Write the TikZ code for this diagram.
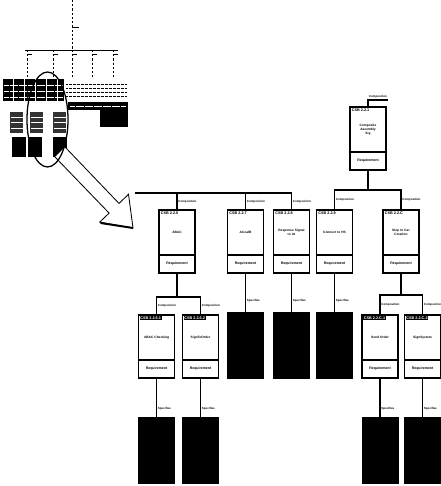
\documentclass[tikz,border=0pt]{standalone}
\usepackage{fontspec}
\setmainfont{Liberation Sans}
\usetikzlibrary{positioning}

\begin{document}
\begin{tikzpicture}[
  x=0.05cm,
  y=-0.05cm,
  link/.style={draw=black, line width=2pt},
  thumb/.style={draw=black, line width=0.8pt},
  thumbtext/.style={draw=black, line width=1.4pt, dash pattern=on 1.2pt off 0.7pt},
  csbbox/.style={
    rectangle,
    draw=black,
    fill=white,
    line width=2pt,
    outer sep=0pt,
    minimum width=1.8cm,
    minimum height=2.25cm,
    text width=1.6cm,
    inner sep=1pt,
    align=center,
    font=\fontsize{4.6}{5.4}\selectfont\bfseries
  },
  reqbox/.style={
    rectangle,
    draw=black,
    fill=white,
    line width=2pt,
    outer sep=0pt,
    minimum width=1.8cm,
    minimum height=0.9cm,
    inner sep=1pt,
    font=\fontsize{5}{5}\selectfont\bfseries
  },
  specbox/.style={
    rectangle,
    draw=black,
    fill=black,
    outer sep=0pt,
    minimum width=1.8cm,
    minimum height=3.3cm
  },
  idtag/.style={font=\fontsize{5.4}{5.4}\selectfont\bfseries, inner sep=0.8pt,
    anchor=north west, xshift=1.6pt, yshift=-1.6pt},
  idinv/.style={idtag, fill=black, text=white},
  rel/.style={font=\fontsize{4.2}{4.5}\selectfont\bfseries, inner sep=1pt}
]
\useasboundingbox (0,0) rectangle (441,486);

% ---------------------------------------------------------------------------
% thumbnail of the whole tree, with the magnified part
% ---------------------------------------------------------------------------
\draw[thumb, dashed] (72,0) -- (72,50);
\draw[thumb] (72,27) -- (79,27);
\draw[thumb] (25,50) -- (118,50);
\foreach \x in {27,53,72,92,113} {
  \draw[thumb, dashed] (\x,50) -- (\x,78);
  \draw[thumb] (\x,54) -- (\x+5,54);
}
\fill[black] (3,79) rectangle (64,101);
\foreach \x in {13,24,35,46,57}
  \draw[white, line width=0.7pt] (\x,79) -- (\x,101);
\foreach \y in {85,91,97}
  \draw[white, line width=0.6pt, dash pattern=on 1pt off 0.6pt] (4,\y) -- (63,\y);
\foreach \y in {84,88,92,96}
  \draw[thumbtext] (66,\y) -- (127,\y);
\fill[black] (68,102) rectangle (128,110);
\draw[white, line width=0.6pt, dash pattern=on 0.8pt off 0.8pt] (70,106) -- (126,106);
\foreach \x in {10,30,53} {
  \fill[black!80] (\x,112) rectangle (\x+13,133);
  \foreach \y in {117,122,128}
    \draw[white, line width=0.5pt, dash pattern=on 0.8pt off 0.5pt] (\x+1,\y) -- (\x+12,\y);
}
\fill[black] (100,110) rectangle (128,127);
\foreach \x in {12,28,53}
  \fill[black] (\x,137) rectangle (\x+14,157);

% hollow arrow from the ellipse to the enlarged part
\draw[line width=1.2pt, fill=white]
  (65,147) -- (119,203.4) -- (128.5,194.3) -- (133,228)
  -- (99.7,222.1) -- (109.1,213.1) -- (55,157);
\draw[line width=2.8pt] (100.5,223) -- (133,228);
\draw[line width=1.8pt] (47.5,119.5) ellipse [x radius=1.025cm, y radius=2.375cm];

% ---------------------------------------------------------------------------
% enlarged part
% ---------------------------------------------------------------------------
\node[csbbox, anchor=north,
  label={[idtag]north west:CSB 2.2.1}] (csb221) at (368,107)
  {Composite Assembly\\Sig};
\node[reqbox, below=0pt of csb221] (csb221r) {Requirement};

\node[csbbox, anchor=north,
  label={[idtag]north west:CSB 2.2.6}] (csb226) at (177,210) {ABAC};
\node[reqbox, below=0pt of csb226] (csb226r) {Requirement};
\node[csbbox, anchor=north,
  label={[idtag]north west:CSB 2.2.7}] (csb227) at (245.5,210) {ACoalB};
\node[reqbox, below=0pt of csb227] (csb227r) {Requirement};
\node[csbbox, anchor=north,
  label={[idtag]north west:CSB 2.2.8}] (csb228) at (291.5,210)
  {Response Signal\\to At};
\node[reqbox, below=0pt of csb228] (csb228r) {Requirement};
\node[csbbox, anchor=north,
  label={[idtag]north west:CSB 2.2.9}] (csb229) at (334.5,210) {Connect to HS};
\node[reqbox, below=0pt of csb229] (csb229r) {Requirement};
\node[csbbox, anchor=north,
  label={[idtag]north west:CSB 2.2.C}] (csb22C) at (401,210)
  {Step to Car\\Creation};
\node[reqbox, below=0pt of csb22C] (csb22Cr) {Requirement};

\node[csbbox, anchor=north,
  label={[idinv]north west:CSB 2.2.6.1}] (csb2261) at (156.5,315) {ABAC Checking};
\node[reqbox, below=0pt of csb2261] (csb2261r) {Requirement};
\node[csbbox, anchor=north,
  label={[idinv]north west:CSB 2.2.6.2}] (csb2262) at (200.5,315) {SignToOrder};
\node[reqbox, below=0pt of csb2262] (csb2262r) {Requirement};
\node[csbbox, anchor=north,
  label={[idinv]north west:CSB 2.2.C.1}] (csb22C1) at (380,315) {Send Order};
\node[reqbox, below=0pt of csb22C1] (csb22C1r) {Requirement};
\node[csbbox, anchor=north,
  label={[idinv]north west:CSB 2.2.C.2}] (csb22C2) at (422.5,315) {SignSystem};
\node[reqbox, below=0pt of csb22C2] (csb22C2r) {Requirement};

\node[specbox, below=1.95cm of csb227r] (spec227) {};
\node[specbox, below=1.95cm of csb228r] (spec228) {};
\node[specbox, below=1.95cm of csb229r] (spec229) {};
\node[specbox, below=1.95cm of csb2261r] (spec2261) {};
\node[specbox, below=1.95cm of csb2262r] (spec2262) {};
\node[specbox, below=1.95cm of csb22C1r] (spec22C1) {};
\node[specbox, below=1.95cm of csb22C2r] (spec22C2) {};

% composition links
\draw[link] (csb221.north) |- ++(20,-7) node[rel, pos=0.75, above] {Composition};
\draw[link] (csb221r.south) -- ++(0,20) -| (csb229.north)
  node[rel, pos=0.75, right] {Composition};
\draw[link] (csb221r.south) -- ++(0,20) -| (csb22C.north)
  node[rel, pos=0.75, right] {Composition};

\coordinate (busL) at (135,193);
\draw[link] (busL) -| (csb228.north) node[rel, pos=0.75, right] {Composition};
\draw[link] (csb226.north |- busL) -- (csb226.north) node[rel, midway, right] {Composition};
\draw[link] (csb227.north |- busL) -- (csb227.north) node[rel, midway, right] {Composition};

\draw[link] (csb226r.south) -- ++(0,24) -| (csb2261.north)
  node[rel, pos=0.75, right] {Composition};
\draw[link] (csb226r.south) -- ++(0,24) -| (csb2262.north)
  node[rel, pos=0.75, right] {Composition};
\draw[link] (csb22Cr.south) -- ++(0,22) -| (csb22C1.north)
  node[rel, pos=0.75, right] {Composition};
\draw[link] (csb22Cr.south) -- ++(0,22) -| (csb22C2.north)
  node[rel, pos=0.75, right] {Composition};

% specification links
\draw[link] (csb227r.south) -- (spec227.north) node[rel, pos=0.72, right] {Specifies};
\draw[link] (csb228r.south) -- (spec228.north) node[rel, pos=0.72, right] {Specifies};
\draw[link] (csb229r.south) -- (spec229.north) node[rel, pos=0.72, right] {Specifies};
\draw[link] (csb2261r.south) -- (spec2261.north) node[rel, pos=0.8, right] {Specifies};
\draw[link] (csb2262r.south) -- (spec2262.north) node[rel, pos=0.8, right] {Specifies};
\draw[link] (csb22C1r.south) -- (spec22C1.north) node[rel, pos=0.8, right] {Specifies};
\draw[link] (csb22C2r.south) -- (spec22C2.north) node[rel, pos=0.8, right] {Specifies};
\end{tikzpicture}
\end{document}
